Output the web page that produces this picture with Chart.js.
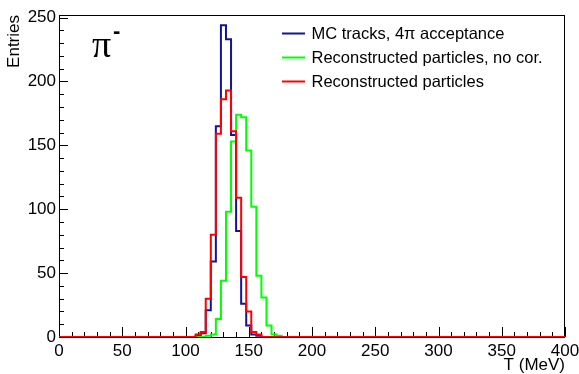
<!DOCTYPE html>
<html>
<head>
<meta charset="utf-8">
<script src="https://cdn.jsdelivr.net/npm/chart.js@4/dist/chart.umd.min.js"></script>
<style>
  html, body { margin: 0; padding: 0; background: #fff; }
  canvas { display: block; }
</style>
</head>
<body>
<canvas id="c" width="579" height="374"></canvas>
<script>
// histogram bins, 4 MeV wide; everything outside is empty
const binWidth = 4;
const binStart = [104, 108, 112, 116, 120, 124, 128, 132, 136, 140, 144, 148, 152, 156, 160, 164, 168, 172, 176];
const mcTracks = [0, 1, 3, 21, 59, 165, 244, 233, 158, 83, 26, 9, 2, 1, 0, 0, 0, 0, 0];
const recoNoCor = [0, 0, 0, 1, 2, 14, 44, 98, 153, 174, 172, 146, 102, 48, 31, 9, 2, 1, 0];
const reco = [0, 2, 4, 30, 80, 159, 186, 193, 161, 109, 47, 20, 4, 2, 0, 0, 0, 0, 0];

const seriesLabels = ['MC tracks, 4\u03c0 acceptance', 'Reconstructed particles, no cor.', 'Reconstructed particles'];
const xTicks = [0, 50, 100, 150, 200, 250, 300, 350, 400];
const yTicks = [0, 50, 100, 150, 200, 250];
const xRange = [0, 400];
const yRange = [0, 252];

const FONT = '"Liberation Sans", Arial, sans-serif';

function histPoints(values) {
  const pts = [{ x: xRange[0], y: 0 }];
  binStart.forEach((b, i) => pts.push({ x: b, y: values[i] }));
  pts.push({ x: binStart[binStart.length - 1] + binWidth, y: 0 });
  pts.push({ x: xRange[1], y: 0 });
  return pts;
}

// ROOT-like frame with inner ticks, legend and the particle label
const rootStyle = {
  id: 'rootStyle',
  beforeDatasetsDraw(chart) {
    const { ctx, chartArea: a, scales } = chart;
    ctx.save();
    ctx.strokeStyle = '#000';
    ctx.lineWidth = 1;
    ctx.strokeRect(a.left + 0.5, a.top + 0.5, a.right - a.left - 1, a.bottom - a.top);
    ctx.beginPath();
    for (let v = xRange[0]; v <= xRange[1]; v += 10) {
      const px = Math.round(scales.x.getPixelForValue(v)) + 0.5;
      const len = v % 50 === 0 ? 10 : 5;
      ctx.moveTo(px, a.bottom);
      ctx.lineTo(px, a.bottom - len);
    }
    for (let v = 0; v <= 250; v += 10) {
      const py = Math.round(scales.y.getPixelForValue(v)) + 0.5;
      const len = v % 50 === 0 ? 9 : 5;
      ctx.moveTo(a.left, py);
      ctx.lineTo(a.left + len, py);
    }
    ctx.stroke();
    ctx.restore();
  },
  afterDraw(chart) {
    const { ctx } = chart;
    ctx.save();
    // legend
    const rows = [33.5, 57.5, 81.5];
    const ds = chart.data.datasets;
    ds.forEach((d, i) => {
      ctx.strokeStyle = d.borderColor;
      ctx.lineWidth = 2;
      ctx.beginPath();
      ctx.moveTo(282, rows[i]);
      ctx.lineTo(305, rows[i]);
      ctx.stroke();
      ctx.fillStyle = '#000';
      ctx.font = '16.5px ' + FONT;
      ctx.textBaseline = 'middle';
      ctx.textAlign = 'left';
      ctx.fillText(d.label, 311.5, rows[i] + 0.5);
    });
    // particle label
    ctx.fillStyle = '#000';
    ctx.textBaseline = 'alphabetic';
    ctx.font = '38px "Liberation Serif", "Times New Roman", serif';
    ctx.fillText('\u03c0', 92, 57);
    ctx.font = 'bold 22px ' + FONT;
    ctx.fillText('-', 113, 38);
    ctx.restore();
  }
};

const ctx = document.getElementById('c').getContext('2d');
new Chart(ctx, {
  type: 'line',
  data: {
    datasets: [
      { label: seriesLabels[0], data: histPoints(mcTracks), borderColor: 'rgb(20,20,150)', order: 2 },
      { label: seriesLabels[1], data: histPoints(recoNoCor), borderColor: 'rgb(0,255,0)', order: 1 },
      { label: seriesLabels[2], data: histPoints(reco), borderColor: 'rgb(255,0,0)', order: 0 }
    ]
  },
  options: {
    responsive: false,
    animation: false,
    elements: {
      line: { stepped: 'before', borderWidth: 2, fill: false, tension: 0 },
      point: { radius: 0, hoverRadius: 0 }
    },
    layout: { padding: { top: 15, right: 14, left: 0, bottom: 0 } },
    plugins: { legend: { display: false }, tooltip: { enabled: false }, title: { display: false } },
    scales: {
      x: {
        type: 'linear',
        min: xRange[0], max: xRange[1],
        grid: { display: false, drawTicks: false },
        border: { display: false },
        afterBuildTicks(s) { s.ticks = xTicks.map(v => ({ value: v })); },
        ticks: {
          autoSkip: false, maxRotation: 0,
          padding: 4, color: '#000', font: { family: FONT, size: 17 }
        },
        title: { display: true, text: 'T (MeV)', align: 'end', color: '#000', font: { family: FONT, size: 17, lineHeight: 1 }, padding: 0 },
        afterFit(s) { s.height = 37; s.paddingLeft = 0; s.paddingRight = 0; }
      },
      y: {
        type: 'linear',
        min: yRange[0], max: yRange[1],
        grid: { display: false, drawTicks: false },
        border: { display: false },
        afterBuildTicks(s) { s.ticks = yTicks.map(v => ({ value: v })); },
        ticks: {
          autoSkip: false, padding: 3, color: '#000',
          font: { family: FONT, size: 17 }
        },
        title: { display: true, text: 'Entries', align: 'end', color: '#000', font: { family: FONT, size: 17, lineHeight: 1 }, padding: { top: 6, bottom: 0 } },
        afterFit(s) { s.width = 59; s.paddingTop = 0; s.paddingBottom = 0; }
      }
    }
  },
  plugins: [rootStyle]
});
</script>
</body>
</html>
